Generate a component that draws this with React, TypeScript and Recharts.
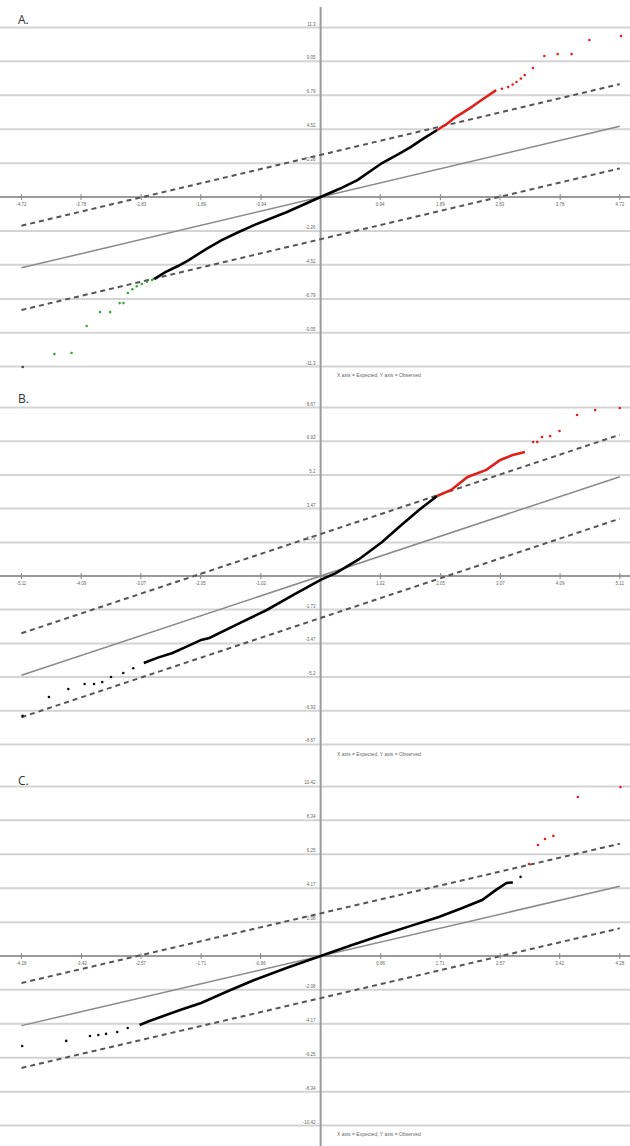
import React from 'react';
import { ScatterChart, Scatter, XAxis, YAxis, ReferenceLine, ReferenceDot } from 'recharts';

// ---------- Panel A ----------
const aXTicks = [-4.72, -3.78, -2.83, -1.89, -0.94, 0.94, 1.89, 2.83, 3.78, 4.72];
const aXLabels = ['-4.72', '-3.78', '-2.83', '-1.89', '-0.94', '0.94', '1.89', '2.83', '3.78', '4.72'];
const aYTicks = [11.3, 9.05, 6.79, 4.52, 2.26, -2.26, -4.52, -6.79, -9.05, -11.3];
const aYLabels = ['11.3', '9.05', '6.79', '4.52', '2.26', '-2.26', '-4.52', '-6.79', '-9.05', '-11.3'];
const aBlack = [
  { x: -2.62, y: -5.45 }, { x: -2.45, y: -5.0 }, { x: -2.25, y: -4.6 }, { x: -2.08, y: -4.2 },
  { x: -1.8, y: -3.45 }, { x: -1.56, y: -2.87 }, { x: -1.3, y: -2.35 }, { x: -1.05, y: -1.87 },
  { x: -0.53, y: -1.0 }, { x: 0, y: 0 }, { x: 0.3, y: 0.55 }, { x: 0.58, y: 1.13 },
  { x: 0.97, y: 2.27 }, { x: 1.2, y: 2.8 }, { x: 1.42, y: 3.33 }, { x: 1.62, y: 3.9 }, { x: 1.84, y: 4.47 },
];
const aRedLine = [
  { x: 1.84, y: 4.47 }, { x: 2.0, y: 4.9 }, { x: 2.13, y: 5.33 }, { x: 2.25, y: 5.65 },
  { x: 2.38, y: 6.0 }, { x: 2.5, y: 6.35 }, { x: 2.61, y: 6.67 }, { x: 2.77, y: 7.13 },
];
const aRedDots = [
  { x: 2.86, y: 7.22 }, { x: 2.96, y: 7.33 }, { x: 3.03, y: 7.5 }, { x: 3.09, y: 7.67 },
  { x: 3.16, y: 7.9 }, { x: 3.22, y: 8.13 }, { x: 3.35, y: 8.6 }, { x: 3.53, y: 9.4 },
  { x: 3.74, y: 9.53 }, { x: 3.96, y: 9.53 }, { x: 4.24, y: 10.47 }, { x: 4.74, y: 10.73 },
];
const aGreen = [
  { x: -2.66, y: -5.53 }, { x: -2.74, y: -5.65 }, { x: -2.82, y: -5.8 }, { x: -2.9, y: -5.95 },
  { x: -2.97, y: -6.15 }, { x: -3.04, y: -6.4 }, { x: -3.11, y: -7.07 }, { x: -3.17, y: -7.07 },
  { x: -3.32, y: -7.67 }, { x: -3.48, y: -7.67 }, { x: -3.69, y: -8.6 }, { x: -3.93, y: -10.4 },
  { x: -4.2, y: -10.47 },
];
const aGrayDots = [{ x: -4.7, y: -11.33 }];
const aExpected = [{ x: -4.72, y: -4.72 }, { x: 4.72, y: 4.72 }];
const aUpper = [{ x: -4.72, y: -1.91 }, { x: 4.72, y: 7.53 }];
const aLower = [{ x: -4.72, y: -7.53 }, { x: 4.72, y: 1.91 }];

// ---------- Panel B ----------
const bXTicks = [-5.11, -4.09, -3.07, -2.05, -1.02, 1.02, 2.05, 3.07, 4.09, 5.11];
const bXLabels = ['-5.11', '-4.09', '-3.07', '-2.05', '-1.02', '1.02', '2.05', '3.07', '4.09', '5.11'];
const bYTicks = [8.67, 6.93, 5.2, 3.47, 1.73, -1.73, -3.47, -5.2, -6.93, -8.67];
const bYLabels = ['8.67', '6.93', '5.2', '3.47', '1.73', '-1.73', '-3.47', '-5.2', '-6.93', '-8.67'];
const bBlack = [
  { x: -3.02, y: -4.48 }, { x: -2.78, y: -4.2 }, { x: -2.53, y: -3.96 }, { x: -2.28, y: -3.62 },
  { x: -2.04, y: -3.29 }, { x: -1.9, y: -3.19 }, { x: -1.4, y: -2.45 }, { x: -0.92, y: -1.75 },
  { x: -0.45, y: -0.95 }, { x: 0, y: -0.2 }, { x: 0.26, y: 0.15 }, { x: 0.65, y: 0.85 },
  { x: 1.05, y: 1.75 }, { x: 1.35, y: 2.55 }, { x: 1.68, y: 3.4 }, { x: 1.99, y: 4.12 },
];
const bRedLine = [
  { x: 1.99, y: 4.12 }, { x: 2.23, y: 4.43 }, { x: 2.51, y: 5.1 }, { x: 2.83, y: 5.46 },
  { x: 3.07, y: 5.97 }, { x: 3.28, y: 6.23 }, { x: 3.49, y: 6.38 },
];
const bRedDots = [
  { x: 3.63, y: 6.9 }, { x: 3.7, y: 6.9 }, { x: 3.78, y: 7.15 }, { x: 3.92, y: 7.2 },
  { x: 4.08, y: 7.46 }, { x: 4.38, y: 8.29 }, { x: 4.69, y: 8.54 }, { x: 5.11, y: 8.65 },
];
const bBlackDots = [
  { x: -3.2, y: -4.75 }, { x: -3.37, y: -4.99 }, { x: -3.58, y: -5.2 }, { x: -3.73, y: -5.46 },
  { x: -3.87, y: -5.56 }, { x: -4.03, y: -5.56 }, { x: -4.31, y: -5.82 }, { x: -4.64, y: -6.23 },
  { x: -5.09, y: -7.2 },
];
const bExpected = [{ x: -5.11, y: -5.11 }, { x: 5.11, y: 5.11 }];
const bUpper = [{ x: -5.11, y: -2.95 }, { x: 5.11, y: 7.27 }];
const bLower = [{ x: -5.11, y: -7.27 }, { x: 5.11, y: 2.95 }];

// ---------- Panel C ----------
const cXTicks = [-4.28, -3.42, -2.57, -1.71, -0.86, 0.86, 1.71, 2.57, 3.42, 4.28];
const cXLabels = ['-4.28', '-3.42', '-2.57', '-1.71', '-0.86', '0.86', '1.71', '2.57', '3.42', '4.28'];
const cYTicks = [10.42, 8.34, 6.25, 4.17, 2.08, -2.08, -4.17, -6.25, -8.34, -10.42];
const cYLabels = ['10.42', '8.34', '6.25', '4.17', '2.08', '-2.08', '-4.17', '-6.25', '-8.34', '-10.42'];
const cBlack = [
  { x: -2.59, y: -4.24 }, { x: -2.45, y: -4.0 }, { x: -2.29, y: -3.75 }, { x: -2.0, y: -3.3 },
  { x: -1.71, y: -2.89 }, { x: -1.33, y: -2.17 }, { x: -0.95, y: -1.48 }, { x: -0.48, y: -0.72 },
  { x: 0, y: 0 }, { x: 0.44, y: 0.66 }, { x: 0.88, y: 1.29 }, { x: 1.29, y: 1.85 },
  { x: 1.69, y: 2.4 }, { x: 2.0, y: 2.9 }, { x: 2.31, y: 3.44 }, { x: 2.51, y: 4.06 },
  { x: 2.66, y: 4.49 }, { x: 2.75, y: 4.52 },
];
const cBlackDots = [
  { x: 2.86, y: 4.86 }, { x: -2.76, y: -4.43 }, { x: -2.91, y: -4.67 }, { x: -3.07, y: -4.79 },
  { x: -3.18, y: -4.86 }, { x: -3.3, y: -4.92 }, { x: -3.64, y: -5.22 }, { x: -4.27, y: -5.53 },
];
const cRedDots = [
  { x: 2.98, y: 5.65 }, { x: 3.11, y: 6.82 }, { x: 3.21, y: 7.19 }, { x: 3.33, y: 7.38 },
  { x: 3.68, y: 9.77 }, { x: 4.29, y: 10.39 },
];
const cExpected = [{ x: -4.28, y: -4.28 }, { x: 4.28, y: 4.28 }];
const cUpper = [{ x: -4.28, y: -1.66 }, { x: 4.28, y: 6.9 }];
const cLower = [{ x: -4.28, y: -6.88 }, { x: 4.28, y: 1.7 }];

const CAPTION = 'X axis = Expected, Y axis = Observed';
const FONT = '"Liberation Sans", Arial, sans-serif';

type Pt = { x: number; y: number };

const dot = (color: string, r = 1.3) => (p: any) => (
  <circle cx={p.cx} cy={p.cy} r={r} fill={color} />
);
const none = () => <g />;

function Panel(props: {
  top: number;
  letter: string;
  xDomain: [number, number];
  yDomain: [number, number];
  marginTop: number;
  xTicks: number[];
  xLabels: string[];
  yTicks: number[];
  yLabels: string[];
  lines: { data: Pt[]; color: string }[];
  dots: { data: Pt[]; color: string }[];
  expected: Pt[];
  upper: Pt[];
  lower: Pt[];
  captionTop: number;
}) {
  const p = props;
  return (
    <div style={{ position: 'absolute', left: 0, top: p.top, width: 630, height: 382 }}>
      <ScatterChart width={630} height={382} margin={{ top: p.marginTop, right: 0, bottom: 0, left: 0 }}>
        <XAxis type="number" dataKey="x" domain={p.xDomain} hide allowDataOverflow />
        <YAxis type="number" dataKey="y" domain={p.yDomain} hide allowDataOverflow />
        {p.yTicks.map((t) => (
          <ReferenceLine key={'g' + t} y={t} stroke="#d4d4d4" strokeWidth={2} />
        ))}
        <ReferenceLine y={0} stroke="#9a9a9a" strokeWidth={2} />
        <ReferenceLine x={0} stroke="#9a9a9a" strokeWidth={2} />
        {p.xTicks.map((t, i) => (
          <ReferenceDot
            key={'xt' + t}
            x={t}
            y={0}
            r={0}
            shape={(s: any) => (
              <g>
                <line x1={s.cx} x2={s.cx} y1={s.cy - 3} y2={s.cy + 3} stroke="#888" strokeWidth={1} />
                <text x={s.cx} y={s.cy + 9} textAnchor="middle" fontSize={4.5} fill="#666" fontFamily={FONT}>
                  {p.xLabels[i]}
                </text>
              </g>
            )}
          />
        ))}
        {p.yTicks.map((t, i) => (
          <ReferenceDot
            key={'yt' + t}
            x={0}
            y={t}
            r={0}
            shape={(s: any) => (
              <text x={s.cx - 5} y={s.cy - 2} textAnchor="end" fontSize={4.5} fill="#666" fontFamily={FONT}>
                {p.yLabels[i]}
              </text>
            )}
          />
        ))}
        <ReferenceLine segment={p.expected as any} stroke="#8a8a8a" strokeWidth={1.5} />
        <ReferenceLine segment={p.upper as any} stroke="#555" strokeWidth={2} strokeDasharray="5 4" />
        <ReferenceLine segment={p.lower as any} stroke="#555" strokeWidth={2} strokeDasharray="5 4" />
        {p.lines.map((l, i) => (
          <Scatter
            key={'l' + i}
            data={l.data}
            line={{ stroke: l.color, strokeWidth: 2.6 }}
            lineType="joint"
            shape={none}
            isAnimationActive={false}
          />
        ))}
        {p.dots.map((d, i) => (
          <Scatter key={'d' + i} data={d.data} shape={dot(d.color)} isAnimationActive={false} />
        ))}
      </ScatterChart>
      <div
        style={{
          position: 'absolute',
          left: 18,
          top: p.letter === 'A.' ? 11 : 8,
          fontFamily: '"Open Sans", sans-serif',
          fontSize: 12,
          color: '#333',
        }}
      >
        {p.letter}
      </div>
      <div
        style={{
          position: 'absolute',
          left: 337,
          top: p.captionTop,
          fontFamily: FONT,
          fontSize: 5,
          color: '#666',
          whiteSpace: 'nowrap',
        }}
      >
        {CAPTION}
      </div>
    </div>
  );
}

export default function App() {
  return (
    <div style={{ position: 'absolute', left: 0, top: 0, width: 630, height: 1146, background: '#fff' }}>
      <Panel
        top={0}
        letter="A."
        xDomain={[-5.058, 4.881]}
        yDomain={[-12.33, 12.67]}
        marginTop={7}
        xTicks={aXTicks}
        xLabels={aXLabels}
        yTicks={aYTicks}
        yLabels={aYLabels}
        lines={[
          { data: aBlack, color: '#000' },
          { data: aRedLine, color: '#e0201a' },
        ]}
        dots={[
          { data: aRedDots, color: '#e0201a' },
          { data: aGreen, color: '#3aa63a' },
          { data: aGrayDots, color: '#444' },
        ]}
        expected={aExpected}
        upper={aUpper}
        lower={aLower}
        captionTop={372}
      />
      <Panel
        top={382}
        letter="B."
        xDomain={[-5.476, 5.284]}
        yDomain={[-9.676, 9.985]}
        marginTop={0}
        xTicks={bXTicks}
        xLabels={bXLabels}
        yTicks={bYTicks}
        yLabels={bYLabels}
        lines={[
          { data: bBlack, color: '#000' },
          { data: bRedLine, color: '#e0201a' },
        ]}
        dots={[
          { data: bRedDots, color: '#e0201a' },
          { data: bBlackDots, color: '#111' },
        ]}
        expected={bExpected}
        upper={bUpper}
        lower={bLower}
        captionTop={369}
      />
      <Panel
        top={764}
        letter="C."
        xDomain={[-4.587, 4.426]}
        yDomain={[-11.68, 11.8]}
        marginTop={0}
        xTicks={cXTicks}
        xLabels={cXLabels}
        yTicks={cYTicks}
        yLabels={cYLabels}
        lines={[{ data: cBlack, color: '#000' }]}
        dots={[
          { data: cBlackDots, color: '#111' },
          { data: cRedDots, color: '#e0201a' },
        ]}
        expected={cExpected}
        upper={cUpper}
        lower={cLower}
        captionTop={367}
      />
    </div>
  );
}
